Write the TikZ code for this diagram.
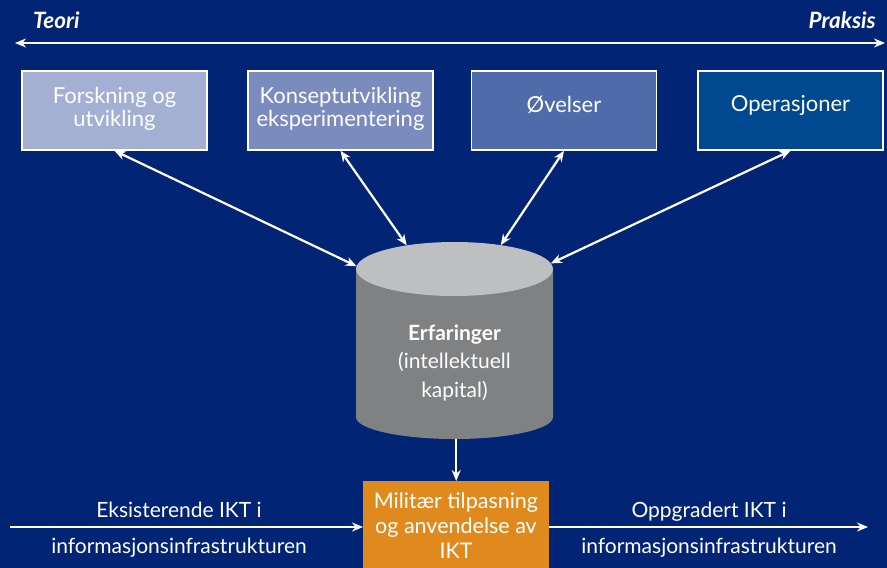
\documentclass[tikz,border=0pt]{standalone}
\usepackage{fontspec}
\setmainfont{Lato}
\usetikzlibrary{arrows.meta,calc}
\definecolor{bg}{RGB}{2,36,116}
\definecolor{boxA}{RGB}{163,176,212}
\definecolor{boxB}{RGB}{122,139,190}
\definecolor{boxC}{RGB}{80,107,169}
\definecolor{boxD}{RGB}{0,72,143}
\definecolor{cylTop}{RGB}{190,191,193}
\definecolor{cylBody}{RGB}{128,129,131}
\definecolor{orangeBox}{RGB}{224,138,30}
\begin{document}
\begin{tikzpicture}[x=1pt,y=-1pt,
  box/.style={draw=white,line width=1.5pt,minimum width=185pt,minimum height=79pt,inner sep=0pt},
  lbl/.style={text=white,align=center,anchor=base,inner sep=0pt},
  boxlbl/.style={lbl,font=\fontsize{22}{23}\selectfont},
  tiplook/.style={},
  link/.style={draw=white,line width=2.2pt,{Stealth[length=11pt,width=9pt]}-{Stealth[length=11pt,width=9pt]}},
  flow/.style={draw=white,line width=2.2pt,-{Stealth[length=11pt,width=9pt]}},
  axislbl/.style={text=white,inner sep=0pt,font=\bfseries\itshape\fontsize{22.5}{26}\selectfont}]
\fill[bg] (0,0) rectangle (887,568);
\useasboundingbox (0,0) rectangle (887,568);

% top axis
\coordinate (tl) at (15,43);
\coordinate (tr) at (885,43);
\draw[link] (tl) -- (tr);
\node[axislbl,anchor=base west] (teori) at (33,28) {Teori};
\node[axislbl,anchor=base east] (praksis) at (876,28) {Praksis};

% boxes
\node[box,fill=boxA] (b1) at (114.5,110.5) {};
\node[box,fill=boxB] (b2) at (340.5,110.5) {};
\node[box,fill=boxC] (b3) at (564,110.5) {};
\node[box,fill=boxD] (b4) at (790.5,110.5) {};
\node[boxlbl] (t1) at (114.5,126) {Forskning og\\utvikling};
\node[boxlbl] (t2) at (340.5,126) {Konseptutvikling\\eksperimentering};
\node[boxlbl] (t3) at (564,112) {Øvelser};
\node[boxlbl] (t4) at (790.5,111) {Operasjoner};

% cylinder
\fill[cylBody] (356,269) -- (356,417) arc[start angle=180,end angle=360,x radius=98.5pt,y radius=22pt] -- (553,269) -- cycle;
\coordinate (ctop) at (454.5,269);
\fill[cylTop] (ctop) ellipse[x radius=98.5pt,y radius=27pt];
\node[minimum width=197pt,minimum height=196pt,inner sep=0pt] (cyl) at (454.5,341) {};
\node[lbl,font=\fontsize{21}{28.5}\selectfont] (ctext) at (454.5,397) {\textbf{Erfaringer}\\(intellektuell\\kapital)};
\coordinate (e1) at ($(ctop)+(174:98.5pt and 27pt)$);
\coordinate (e2) at ($(ctop)+(119:98.5pt and 27pt)$);
\coordinate (e3) at ($(ctop)+(62:98.5pt and 27pt)$);
\coordinate (e4) at ($(ctop)+(12:98.5pt and 27pt)$);

\draw[link] (b1.south) -- (e1);
\draw[link] (b2.south) -- (e2);
\draw[link] (b3.south) -- (e3);
\draw[link] (b4.south) -- (e4);

% military adaptation
\node[fill=orangeBox,minimum width=186pt,minimum height=87pt,inner sep=0pt,anchor=north west] (mil) at (363,481) {};
\node[lbl,font=\fontsize{21.5}{25}\selectfont] (miltext) at (456,558) {Militær tilpasning\\og anvendelse av\\IKT};
\draw[flow] (mil.north |- cyl.south) -- (mil.north);

\coordinate (inL) at (10,527);
\coordinate (outR) at (868,527);
\draw[flow] (inL) -- (inL -| mil.west);
\draw[flow] (outR -| mil.east) -- (outR);
\node[lbl,font=\fontsize{21}{36}\selectfont] (inlbl) at (179,553) {Eksisterende IKT i\\informasjonsinfrastrukturen};
\node[lbl,font=\fontsize{21}{36}\selectfont] (outlbl) at (709,553) {Oppgradert IKT i\\informasjonsinfrastrukturen};
\end{tikzpicture}
\end{document}
